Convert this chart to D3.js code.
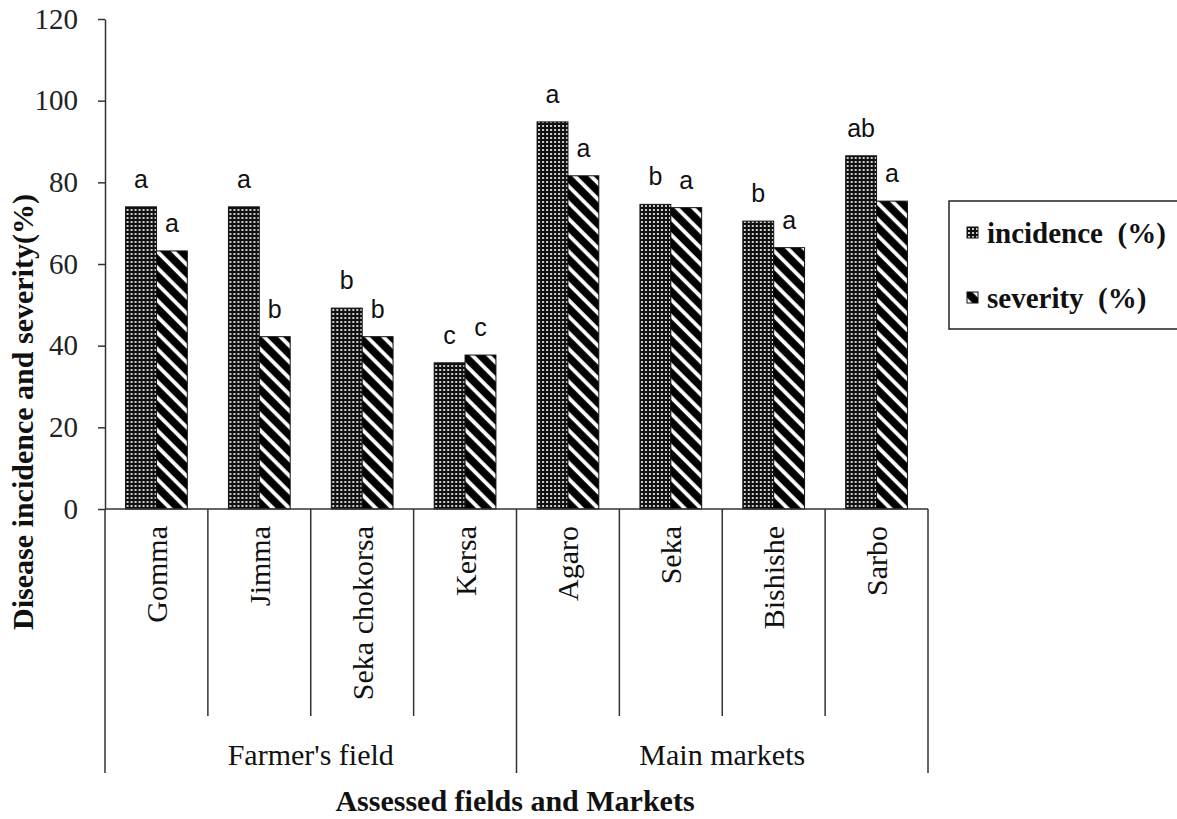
<!DOCTYPE html>
<html>
<head>
<meta charset="utf-8">
<script src="https://cdn.jsdelivr.net/npm/d3@7"></script>
<style>
  html, body { margin: 0; padding: 0; background: #fff; }
  svg { display: block; }
</style>
</head>
<body>
<script>
// Locations (categories), grouped into farmer's fields and main markets
const categories = ["Gomma", "Jimma", "Seka chokorsa", "Kersa", "Agaro", "Seka", "Bishishe", "Sarbo"];
const groups = [
  { name: "Farmer's field", from: 0, to: 4 },
  { name: "Main markets", from: 4, to: 8 }
];
const seriesNames = ["incidence", "severity"];
const seriesLabels = ["incidence  (%)", "severity  (%)"];
const incidence = [74, 74, 49.2, 35.8, 94.8, 74.6, 70.5, 86.5];
const severity = [63.2, 42.2, 42.2, 37.7, 81.6, 73.8, 64, 75.4];
// Mean-separation letters printed above each bar
const incidenceLetters = ["a", "a", "b", "c", "a", "b", "b", "ab"];
const severityLetters = ["a", "b", "b", "c", "a", "a", "a", "a"];
const yTicks = [0, 20, 40, 60, 80, 100, 120];

const SERIF = "Liberation Serif, Times New Roman, serif";
const SANS = "Liberation Sans, Arial, sans-serif";

const W = 1177, H = 819;
const svg = d3.select("body").append("svg").attr("width", W).attr("height", H);

const plot = { left: 105, right: 928, top: 19, bottom: 509 };

// Fill patterns: dotted for incidence, diagonal stripes for severity
const defs = svg.append("defs");
const dots = defs.append("pattern").attr("id", "pat-incidence")
  .attr("patternUnits", "userSpaceOnUse").attr("width", 4).attr("height", 4);
dots.append("rect").attr("width", 4).attr("height", 4).attr("fill", "#111");
dots.append("circle").attr("cx", 2).attr("cy", 2).attr("r", 1.05).attr("fill", "#fff");

const stripes = defs.append("pattern").attr("id", "pat-severity")
  .attr("patternUnits", "userSpaceOnUse").attr("width", 11.5).attr("height", 11.5)
  .attr("patternTransform", "rotate(45)");
stripes.append("rect").attr("width", 11.5).attr("height", 11.5).attr("fill", "#000");
stripes.append("rect").attr("x", 0).attr("y", 4).attr("width", 11.5).attr("height", 3.8).attr("fill", "#fff");

const fills = { incidence: "url(#pat-incidence)", severity: "url(#pat-severity)" };

// Scales
const x = d3.scaleBand().domain(categories).range([plot.left, plot.right]).padding(0);
const groupW = x.bandwidth() * 0.6;
const xs = d3.scaleBand().domain(seriesNames).range([0, groupW]).padding(0);
const y = d3.scaleLinear().domain([0, 120]).range([plot.bottom, plot.top]);

const rows = categories.map((c, i) => ({
  cat: c,
  values: [
    { key: "incidence", v: incidence[i], letter: incidenceLetters[i] },
    { key: "severity", v: severity[i], letter: severityLetters[i] }
  ]
}));

// Bars
const g = svg.append("g");
const cat = g.selectAll("g.cat").data(rows).join("g")
  .attr("class", "cat")
  .attr("transform", d => `translate(${x(d.cat) + (x.bandwidth() - groupW) / 2},0)`);

cat.selectAll("rect").data(d => d.values).join("rect")
  .attr("x", d => xs(d.key))
  .attr("y", d => y(d.v))
  .attr("width", xs.bandwidth())
  .attr("height", d => y(0) - y(d.v))
  .attr("fill", d => fills[d.key])
  .attr("stroke", "#111")
  .attr("stroke-width", 1);

cat.selectAll("text.letter").data(d => d.values).join("text")
  .attr("class", "letter")
  .attr("x", d => xs(d.key) + xs.bandwidth() / 2)
  .attr("y", d => y(d.v) - 19)
  .attr("text-anchor", "middle")
  .attr("font-family", SANS)
  .attr("font-size", 25)
  .attr("fill", "#111")
  .text(d => d.letter);

// Y axis
const yAxis = svg.append("g")
  .attr("transform", `translate(${plot.left},0)`)
  .call(d3.axisLeft(y).tickValues(yTicks).tickSize(7).tickPadding(20).tickSizeOuter(0));
yAxis.select(".domain").attr("stroke", "#333").attr("stroke-width", 1.5);
yAxis.selectAll(".tick line").attr("stroke", "#333").attr("stroke-width", 1.5);
yAxis.selectAll(".tick text")
  .attr("font-size", 29)
  .attr("fill", "#222")
  .attr("font-family", SERIF);

// X axis baseline and category dividers
const lineColor = "#333";
svg.append("line")
  .attr("x1", plot.left).attr("x2", plot.right)
  .attr("y1", y(0)).attr("y2", y(0))
  .attr("stroke", lineColor).attr("stroke-width", 1.5);

const groupEdges = new Set();
groups.forEach(gr => { groupEdges.add(gr.from); groupEdges.add(gr.to); });
const edges = d3.range(categories.length + 1);
svg.selectAll("line.div").data(edges).join("line")
  .attr("class", "div")
  .attr("x1", i => i < categories.length ? x(categories[i]) : plot.right)
  .attr("x2", i => i < categories.length ? x(categories[i]) : plot.right)
  .attr("y1", y(0))
  .attr("y2", i => groupEdges.has(i) ? 773 : 716)
  .attr("stroke", lineColor).attr("stroke-width", 1.5);

// Rotated category labels
svg.selectAll("text.cat").data(categories).join("text")
  .attr("class", "cat")
  .attr("transform", d => `translate(${x(d) + x.bandwidth() / 2},526) rotate(-90)`)
  .attr("dy", "0.35em")
  .attr("text-anchor", "end")
  .attr("font-family", SERIF)
  .attr("font-size", 30)
  .attr("fill", "#111")
  .text(d => d);

// Group labels
svg.selectAll("text.grp").data(groups).join("text")
  .attr("class", "grp")
  .attr("x", d => {
    const a = x(categories[d.from]);
    const b = d.to < categories.length ? x(categories[d.to]) : plot.right;
    return (a + b) / 2;
  })
  .attr("y", 765)
  .attr("text-anchor", "middle")
  .attr("font-family", SERIF)
  .attr("font-size", 30)
  .attr("fill", "#111")
  .text(d => d.name);

// Axis titles
svg.append("text")
  .attr("x", 515).attr("y", 811)
  .attr("text-anchor", "middle")
  .attr("font-family", SERIF)
  .attr("font-size", 30).attr("font-weight", "bold")
  .attr("fill", "#111")
  .text("Assessed fields and Markets");

svg.append("text")
  .attr("transform", "translate(33,412) rotate(-90)")
  .attr("text-anchor", "middle")
  .attr("font-family", SERIF)
  .attr("font-size", 30).attr("font-weight", "bold")
  .attr("fill", "#111")
  .text("Disease incidence and severity(%)");

// Legend
const leg = svg.append("g");
leg.append("rect")
  .attr("x", 949).attr("y", 201).attr("width", 260).attr("height", 128)
  .attr("fill", "#fff").attr("stroke", "#222").attr("stroke-width", 1.5);
const legItems = leg.selectAll("g.item").data(seriesNames).join("g")
  .attr("class", "item")
  .attr("transform", (d, i) => `translate(967,${227 + i * 65})`);
legItems.append("rect")
  .attr("width", 11).attr("height", 11)
  .attr("fill", d => fills[d]).attr("stroke", "#111").attr("stroke-width", 1);
legItems.append("text")
  .attr("x", 20).attr("y", 16)
  .attr("font-family", SERIF)
  .attr("font-size", 29).attr("font-weight", "bold")
  .attr("fill", "#111")
  .style("white-space", "pre")
  .text((d, i) => seriesLabels[i]);
</script>
</body>
</html>
